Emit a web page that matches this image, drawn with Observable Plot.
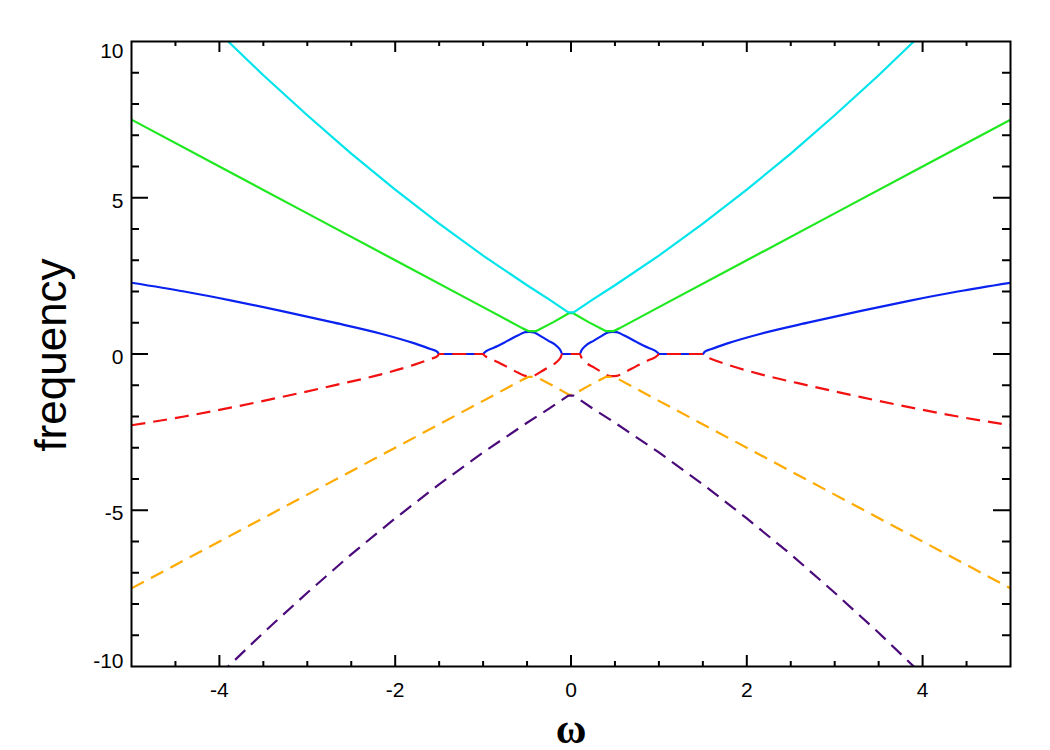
<!DOCTYPE html>
<html>
<head>
<meta charset="utf-8">
<script src="https://cdn.jsdelivr.net/npm/d3@7"></script>
<script src="https://cdn.jsdelivr.net/npm/@observablehq/plot@0.6"></script>
<style>
  body { margin: 0; background: #fff; }
  #chart svg { display: block; }
</style>
</head>
<body>
<div id="chart"></div>
<script>
// ---- tick values ----
const xMajorTicks = [-4, -2, 0, 2, 4];
const xMinorTicks = [-4.5, -3.5, -3, -2.5, -1.5, -1, -0.5, 0.5, 1, 1.5, 2.5, 3, 3.5, 4.5];
const yMajorTicks = [-10, -5, 0, 5, 10];
const yMajorInner = [-5, 0, 5];
const yMinorTicks = [-9, -8, -7, -6, -4, -3, -2, -1, 1, 2, 3, 4, 6, 7, 8, 9];

// ---- series ----
const blueX = [-5, -4.4, -3.86, -3.3, -2.72, -2.16, -1.78, -1.59, -1.52, -1.5, -1.0, -0.99, -0.96, -0.88, -0.75, -0.6, -0.52, -0.47, -0.42, -0.35, -0.26, -0.16, -0.12, -0.1, 0.1, 0.12, 0.16, 0.26, 0.35, 0.42, 0.47, 0.52, 0.6, 0.75, 0.88, 0.96, 0.99, 1.0, 1.5, 1.52, 1.59, 1.78, 2.16, 2.72, 3.3, 3.86, 4.4, 5];
const blueY = [2.28, 2.0, 1.71, 1.38, 1.02, 0.65, 0.34, 0.15, 0.07, 0, 0, 0.03, 0.10, 0.20, 0.38, 0.60, 0.70, 0.71, 0.69, 0.58, 0.43, 0.25, 0.12, 0, 0, 0.12, 0.25, 0.43, 0.58, 0.69, 0.71, 0.70, 0.60, 0.38, 0.20, 0.10, 0.03, 0, 0, 0.07, 0.15, 0.34, 0.65, 1.02, 1.38, 1.71, 2.0, 2.28];

const redX = [-5, -4.4, -3.86, -3.3, -2.72, -2.16, -1.78, -1.59, -1.52, -1.5, -1.0, -0.99, -0.96, -0.88, -0.75, -0.6, -0.52, -0.47, -0.42, -0.35, -0.26, -0.16, -0.12, -0.1, 0.1, 0.12, 0.16, 0.26, 0.35, 0.42, 0.47, 0.52, 0.6, 0.75, 0.88, 0.96, 0.99, 1.0, 1.5, 1.52, 1.59, 1.78, 2.16, 2.72, 3.3, 3.86, 4.4, 5];
const redY = [-2.28, -2.0, -1.71, -1.38, -1.02, -0.65, -0.34, -0.15, -0.07, 0, 0, -0.03, -0.10, -0.20, -0.38, -0.60, -0.70, -0.71, -0.69, -0.58, -0.43, -0.25, -0.12, 0, 0, -0.12, -0.25, -0.43, -0.58, -0.69, -0.71, -0.70, -0.60, -0.38, -0.20, -0.10, -0.03, 0, 0, -0.07, -0.15, -0.34, -0.65, -1.02, -1.38, -1.71, -2.0, -2.28];

const greenX = [-5, -4, -3, -2, -1, -0.55, -0.48, -0.40, -0.2, -0.02, 0.02, 0.2, 0.40, 0.48, 0.55, 1, 2, 3, 4, 5];
const greenY = [7.5, 6.0, 4.5, 3.0, 1.5, 0.82, 0.73, 0.73, 1.02, 1.31, 1.31, 1.02, 0.73, 0.73, 0.82, 1.5, 3.0, 4.5, 6.0, 7.5];

const orangeX = [-5, -4, -3, -2, -1, -0.55, -0.48, -0.40, -0.2, -0.02, 0.02, 0.2, 0.40, 0.48, 0.55, 1, 2, 3, 4, 5];
const orangeY = [-7.5, -6.0, -4.5, -3.0, -1.5, -0.82, -0.73, -0.73, -1.02, -1.31, -1.31, -1.02, -0.73, -0.73, -0.82, -1.5, -3.0, -4.5, -6.0, -7.5];

const cyanX = [-4.0, -3.9, -3.5, -3.0, -2.5, -2.0, -1.5, -1.0, -0.5, -0.25, -0.03, 0.03, 0.25, 0.5, 1.0, 1.5, 2.0, 2.5, 3.0, 3.5, 3.9, 4.0];
const cyanY = [10.28, 10.0, 8.92, 7.64, 6.41, 5.26, 4.17, 3.15, 2.2, 1.75, 1.33, 1.33, 1.75, 2.2, 3.15, 4.17, 5.26, 6.41, 7.64, 8.92, 10.0, 10.28];

const purpleX = [-4.0, -3.9, -3.5, -3.0, -2.5, -2.0, -1.5, -1.0, -0.5, -0.25, -0.03, 0.03, 0.25, 0.5, 1.0, 1.5, 2.0, 2.5, 3.0, 3.5, 3.9, 4.0];
const purpleY = [-10.28, -10.0, -8.92, -7.64, -6.41, -5.26, -4.17, -3.15, -2.2, -1.75, -1.33, -1.33, -1.75, -2.2, -3.15, -4.17, -5.26, -6.41, -7.64, -8.92, -10.0, -10.28];

// ---- layout ----
const W = 1050, H = 750;
const mL = 131, mR = 40, mT = 41, mB = 84;
const plotW = W - mL - mR, plotH = H - mT - mB;
const sans = "Liberation Sans, Arial, Helvetica, sans-serif";
const dash = "14,8";
const tickFont = 21;

const toRows = (xs, ys) => xs.map((x, i) => ({x, y: ys[i]}));

const solid = (xs, ys, color, curve) => Plot.line(toRows(xs, ys), {
  x: "x", y: "y", stroke: color, strokeWidth: 2.2, clip: true, curve
});
const dashed = (xs, ys, color, curve) => Plot.line(toRows(xs, ys), {
  x: "x", y: "y", stroke: color, strokeWidth: 2.2, clip: true, curve,
  strokeDasharray: dash, strokeLinecap: "butt"
});

const fmt = d => String(d);

const chart = Plot.plot({
  width: W, height: H,
  marginLeft: mL, marginRight: mR, marginTop: mT, marginBottom: mB,
  style: {background: "white", color: "black", fontFamily: sans, fontSize: tickFont + "px", overflow: "visible"},
  x: {domain: [-5, 5]},
  y: {domain: [-10, 10]},
  marks: [
    // curves
    solid(blueX, blueY, "#0a22f0", "monotone-x"),
    solid(greenX, greenY, "#1ee81e", "linear"),
    solid(cyanX, cyanY, "#00e4ec", "linear"),
    dashed(redX, redY, "#f21010", "monotone-x"),
    dashed(orangeX, orangeY, "#ffaa00", "linear"),
    dashed(purpleX, purpleY, "#4b0a7a", "linear"),
    // frame
    Plot.frame({stroke: "black", strokeWidth: 2}),
    // inward ticks: bottom / top
    Plot.ruleX(xMajorTicks, {insetTop: plotH - 11, stroke: "black", strokeWidth: 2}),
    Plot.ruleX(xMajorTicks, {insetBottom: plotH - 11, stroke: "black", strokeWidth: 2}),
    Plot.ruleX(xMinorTicks, {insetTop: plotH - 5, stroke: "black", strokeWidth: 2}),
    Plot.ruleX(xMinorTicks, {insetBottom: plotH - 5, stroke: "black", strokeWidth: 2}),
    // inward ticks: left / right
    Plot.ruleY(yMajorInner, {insetRight: plotW - 17, stroke: "black", strokeWidth: 2}),
    Plot.ruleY(yMajorInner, {insetLeft: plotW - 17, stroke: "black", strokeWidth: 2}),
    Plot.ruleY(yMinorTicks, {insetRight: plotW - 8, stroke: "black", strokeWidth: 2}),
    Plot.ruleY(yMinorTicks, {insetLeft: plotW - 8, stroke: "black", strokeWidth: 2}),
    // tick labels
    Plot.axisX({ticks: xMajorTicks, anchor: "bottom", tickSize: 0, tickPadding: 16,
      tickFormat: fmt, fontSize: tickFont, label: null}),
    Plot.axisY({ticks: yMajorTicks.filter(v => Math.abs(v) < 10), anchor: "left", tickSize: 0, tickPadding: 8,
      tickFormat: fmt, fontSize: tickFont, dy: 3.5, label: null}),
    Plot.axisY({ticks: yMajorTicks.filter(v => v === 10), anchor: "left", tickSize: 0, tickPadding: 8,
      tickFormat: fmt, fontSize: tickFont, dy: 9.5, label: null}),
    Plot.axisY({ticks: yMajorTicks.filter(v => v === -10), anchor: "left", tickSize: 0, tickPadding: 8,
      tickFormat: fmt, fontSize: tickFont, dy: -5, label: null}),
    // axis titles
    Plot.text(["ω"], {text: d => d, frameAnchor: "bottom", textAnchor: "middle", lineAnchor: "bottom",
      dy: 76, fontSize: 42, fontWeight: "bold",
      fontFamily: "Liberation Serif, Times New Roman, serif"}),
    Plot.text(["frequency"], {text: d => d, frameAnchor: "left", textAnchor: "middle", rotate: -90,
      dx: -80, dy: 1, fontSize: 44, fontFamily: sans})
  ]
});

document.getElementById("chart").appendChild(chart);
</script>
</body>
</html>
